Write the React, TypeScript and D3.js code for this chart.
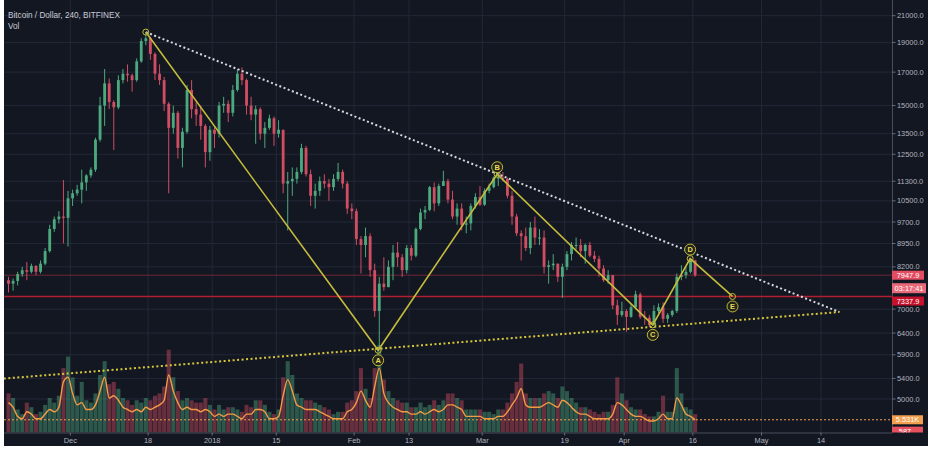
import React from "react";
import * as d3 from "d3";

const W = 933;
const H = 451;

// ---- data (daily candles) ----
const startDay = "2017-11-17T00:00:00Z";
const firstOpen = 7800;
const highs = [
  7900, 7850, 8050, 8200, 8350, 8300, 8250, 8400, 8800, 9600, 9900, 10100, 11350, 10900,
  10950, 11150, 11800, 11600, 11900, 13300, 15500, 17200, 16600, 15300, 16800, 17200, 17500, 16900, 17900, 19300,
  19750, 19400, 18300, 17500, 16700, 15200, 15000, 14700, 13800, 16200, 16500, 15200, 15000, 14000, 13900,
  13900, 15200, 15500, 15300, 16200, 17200, 17300, 16600, 15500, 15000, 14900, 14100, 14500, 14400, 14200,
  13700, 11700, 11900, 11900, 13000, 12900, 11800, 11200, 11500, 11600, 11400, 11600, 12100, 11800, 11300, 10400,
  10200, 9200, 9500, 9300, 8300, 7900, 8500, 8400, 8900, 9000, 8600, 8900, 8900, 9500, 10200, 10300, 11100,
  11250, 11200, 11750, 11400, 10900, 10400, 10400, 9900, 10400, 10800, 11100,
  11000, 11200, 11500, 11700, 11700, 11450, 10900, 10000, 9400, 9500, 9700, 9900, 9450, 9400, 8400, 8600,
  8300, 8300, 8700, 9000, 9150, 9100, 8950, 9000, 8700, 8550, 8250, 8100, 7950, 7250, 7200,
  7000, 7150, 7500, 7450, 6950, 6850, 7100, 7150, 7180, 6900, 6980, 8000, 8250, 8200, 8450, 8420,
];
const lows = [
  7450, 7500, 7650, 7900, 7800, 8000, 7950, 8000, 8250, 8650, 9350, 9650, 8950, 8850,
  10300, 10700, 10400, 10900, 11450, 11700, 13100, 13900, 14800, 12700, 14800, 16300, 16400, 15800, 16400, 17600,
  18800, 17800, 16500, 16200, 14700, 10800, 13500, 12300, 11900, 13500, 14300, 13900, 13200, 11900, 12200,
  12800, 13300, 14600, 14100, 14400, 15800, 16200, 14500, 14200, 13000, 13200, 12800, 13700, 12900, 13300,
  10800, 9400, 10700, 11200, 11600, 11500, 10300, 10200, 10700, 11000, 10500, 10900, 11300, 11000, 10000, 9800,
  8900, 8000, 8500, 7900, 6800, 6050, 7500, 7600, 7800, 8200, 7900, 8000, 8400, 8500, 9400, 9800, 10100,
  10100, 10300, 11100, 10400, 9800, 9600, 9400, 9300, 9400, 10200, 10300,
  10300, 10800, 11000, 11100, 11300, 10600, 9600, 9200, 8400, 8700, 8600, 8900, 8900, 8000, 7700, 8100,
  7750, 7300, 8100, 8400, 8750, 8500, 8300, 8500, 8350, 7900, 7750, 7700, 7000, 6600, 6800,
  6430, 6780, 7000, 6750, 6600, 6550, 6580, 6900, 6650, 6650, 6800, 6900, 7800, 7850, 8000, 7900,
];
const closes = [
  7700, 7780, 7980, 8100, 8050, 8230, 8050, 8300, 8700, 9450, 9800, 9900, 9850, 10600,
  10800, 10950, 11250, 11550, 11800, 13200, 15000, 16300, 15200, 14900, 16500, 16900, 16800, 16500, 17700, 19100,
  19300, 18200, 16900, 16500, 15100, 13800, 14600, 12800, 13600, 15900, 14800, 14500, 13900, 12600, 13700,
  13500, 15000, 15100, 14600, 15900, 16900, 16500, 15000, 14500, 14800, 13500, 13800, 14300, 13500, 13700,
  11200, 11300, 11400, 11700, 12800, 11600, 10700, 10900, 11300, 11200, 11050, 11400, 11700, 11200, 10200, 10100,
  9100, 8900, 9200, 8100, 6950, 7700, 7600, 8200, 8650, 8500, 8100, 8800, 8550, 9450, 10050, 10150, 11050,
  10400, 11100, 11300, 10550, 9900, 10200, 9600, 9650, 10300, 10650, 10350,
  10900, 11050, 11450, 11450, 11400, 10700, 9900, 9300, 9200, 8800, 9500, 9150, 9150, 8200, 8250, 8300,
  7900, 8200, 8600, 8900, 8900, 8700, 8900, 8550, 8450, 8150, 7800, 7950, 7100, 6850, 6950,
  6800, 7050, 7400, 6800, 6780, 6600, 6950, 7050, 6750, 6850, 6950, 7900, 7950, 8050, 8400, 7947.9,
];
// volume bars, thousands of BTC (upper envelope of the 4h bars per day)
const volumes = [
  17, 15, 10, 8, 13, 11, 8, 9, 12, 15, 13, 16, 28, 33,
  24, 16, 22, 14, 13, 17, 25, 31, 21, 22, 19, 15, 14, 12, 14, 13, 15, 14, 16, 17, 20, 36, 24, 18, 14, 15, 14, 13, 13, 15, 12,
  10, 12, 10, 11, 11, 10, 9, 12, 11, 14, 14, 12, 9, 8, 10, 24, 31, 25, 17, 15, 14, 14, 13, 12, 11, 10, 8, 9, 9, 13, 14,
  18, 28, 19, 15, 28, 38, 23, 18, 15, 14, 13, 13, 11, 11, 13, 11, 12, 14, 12, 14, 17, 17, 15, 14, 10, 10, 10, 10,
  9, 9, 8, 10, 10, 13, 17, 22, 30, 17, 15, 15, 15, 17, 18, 17, 15, 20, 18, 15, 13, 11, 11, 10, 9, 8, 9, 9, 12, 24, 17,
  14, 11, 10, 10, 8, 7, 7, 9, 16, 9, 9, 28, 17, 11, 10, 8,
];
// volume moving average, thousands of BTC
const volumeMA = [
  13, 11, 7, 6, 9, 8, 6, 6, 8, 10, 9, 11, 22, 24,
  17, 12, 13, 10, 10, 12, 18, 24, 15, 16, 14, 11, 10, 9, 10, 9, 11, 10, 11, 12, 14, 25, 18, 13, 10, 11, 10, 10, 9, 10, 9,
  7, 8, 7, 8, 8, 7, 6, 8, 8, 10, 10, 9, 6, 6, 7, 16, 23, 18, 12, 11, 10, 10, 10, 9, 8, 7, 6, 6, 6, 9, 10,
  13, 18, 14, 11, 20, 28, 17, 13, 11, 10, 9, 9, 8, 8, 9, 8, 9, 10, 9, 10, 12, 12, 11, 10, 7, 7, 7, 7,
  6, 6, 6, 7, 7, 9, 12, 15, 19, 12, 11, 11, 11, 12, 13, 12, 11, 14, 13, 11, 9, 8, 8, 7, 6, 6, 6, 6, 8, 13, 12,
  10, 8, 7, 7, 6, 5, 5, 6, 8, 6, 6, 15, 12, 8, 7, 5.5,
];

const priceTicks = [5000, 5400, 5900, 6400, 7000, 8200, 8950, 9700, 10500, 11300, 12500, 13500, 15000, 17000, 19000, 21000];
const timeTicks = [
  "2017-12-01", "2017-12-18", "2018-01-01", "2018-01-15", "2018-02-01", "2018-02-13",
  "2018-03-01", "2018-03-19", "2018-04-01", "2018-04-16", "2018-05-01", "2018-05-14",
];
const timeTickLabels = ["Dec", "18", "2018", "15", "Feb", "13", "Mar", "19", "Apr", "16", "May", "14"];

const waveNames = ["", "A", "B", "C", "D", "E"];
const waveDates = [
  "2017-12-17T12:00:00Z", "2018-02-06T06:00:00Z", "2018-03-04T06:00:00Z",
  "2018-04-07T06:00:00Z", "2018-04-15T10:00:00Z", "2018-04-24T16:00:00Z",
];
const wavePrices = [19750, 6000, 11600, 6600, 8460, 7340];

const upperTrendDates = ["2017-12-17T12:00:00Z", "2018-05-18T00:00:00Z"];
const upperTrendPrices = [19750, 6925];
const lowerTrendDates = ["2017-11-15T12:00:00Z", "2018-05-18T00:00:00Z"];
const lowerTrendPrices = [5390, 6925];

const lastPrice = 7947.9;
const levelPrice = 7337.9;
const countdown = "03:17:41";
const volMaLast = 5.531;
const lastVol = 0.587;

const title = "Bitcoin / Dollar, 240, BITFINEX";
const volTitle = "Vol";

// ---- layout / style ----
const BG = "#131722";
const PLOT_L = 4;
const PLOT_R = 892;
const PLOT_B = 432.5;
const UP = "#53b987";
const DOWN = "#e5536a";
const GRID = "#232838";
const AXIS_TEXT = "#b2b5be";
const WAVE = "#c4bb3c";
const FONT = "'Liberation Sans', Arial, sans-serif";

export default function App() {
  const x = d3
    .scaleUtc()
    .domain([new Date("2017-12-01T00:00:00Z"), new Date("2018-05-14T00:00:00Z")])
    .range([70.3, 821]);
  const y = d3.scaleLog().domain([5000, 21000]).range([399, 15.7]);
  const yVol = d3.scaleLinear().domain([0, 10]).range([PLOT_B, PLOT_B - 23]);

  const start = new Date(startDay);
  const candles = closes.map((c, i) => {
    const day = d3.utcDay.offset(start, i);
    const mid = d3.utcHour.offset(day, 12);
    const open = i === 0 ? firstOpen : closes[i - 1];
    return { mid, day, open, high: highs[i], low: lows[i], close: c, vol: volumes[i] };
  });
  const dayW = x(d3.utcDay.offset(start, 1)) - x(start);
  const bodyW = dayW * 0.62;

  const maLine = d3
    .line<number>()
    .x((_, i) => x(candles[i].mid))
    .y((v) => yVol(v))
    .curve(d3.curveMonotoneX)(volumeMA) as string;

  const wavePts = waveDates.map((d, i) => ({ name: waveNames[i], px: x(new Date(d)), py: y(wavePrices[i]) }));
  const waveLine = d3
    .line<{ px: number; py: number }>()
    .x((p) => p.px)
    .y((p) => p.py)(wavePts) as string;

  const trend = (ds: string[], ps: number[]) => ({
    x1: x(new Date(ds[0])),
    y1: y(ps[0]),
    x2: x(new Date(ds[1])),
    y2: y(ps[1]),
  });
  const up = trend(upperTrendDates, upperTrendPrices);
  const lo = trend(lowerTrendDates, lowerTrendPrices);

  const below = new Set(["A", "C", "E"]);

  const yLast = y(lastPrice);
  const yLevel = y(levelPrice);
  const yMa = yVol(volMaLast);
  const yLastVol = yVol(lastVol);

  return (
    <svg
      width={W}
      height={H}
      style={{ position: "absolute", left: 0, top: 0, display: "block" }}
      fontFamily={FONT}
    >
      <defs>
        <clipPath id="plot">
          <rect x={PLOT_L} y={0} width={PLOT_R - PLOT_L} height={PLOT_B} />
        </clipPath>
        <clipPath id="axisR">
          <rect x={PLOT_R} y={0} width={40} height={PLOT_B} />
        </clipPath>
      </defs>
      <rect x={0} y={0} width={W} height={H} fill="#ffffff" />
      <rect x={PLOT_L} y={0} width={928 - PLOT_L} height={446} fill={BG} />

      {/* grid */}
      <g clipPath="url(#plot)">
        {priceTicks.map((t) => (
          <line key={"gy" + t} x1={PLOT_L} x2={PLOT_R} y1={y(t)} y2={y(t)} stroke={GRID} strokeWidth={1} />
        ))}
        {timeTicks.map((t) => (
          <line key={"gx" + t} x1={x(new Date(t))} x2={x(new Date(t))} y1={0} y2={PLOT_B} stroke={GRID} strokeWidth={1} />
        ))}
      </g>

      <g clipPath="url(#plot)">
        {/* volume */}
        {candles.map((c, i) => (
          <rect
            key={"v" + i}
            x={x(c.mid) - dayW / 2 + 0.25}
            y={yVol(c.vol)}
            width={dayW - 0.5}
            height={PLOT_B - yVol(c.vol)}
            fill={c.close >= c.open ? UP : DOWN}
            opacity={0.4}
          />
        ))}
        <line x1={PLOT_L} x2={PLOT_R} y1={yMa} y2={yMa} stroke="#f0a050" strokeWidth={1} strokeDasharray="2 2" />
        <path d={maLine} fill="none" stroke="#f39a45" strokeWidth={1.4} />

        {/* price level lines */}
        <line x1={PLOT_L} x2={PLOT_R} y1={yLast} y2={yLast} stroke="#6e2634" strokeWidth={1} />
        <line x1={PLOT_L} x2={PLOT_R} y1={yLevel} y2={yLevel} stroke="#b01f30" strokeWidth={1.5} />

        {/* candles */}
        {candles.map((c, i) => {
          const col = c.close >= c.open ? UP : DOWN;
          const cx = x(c.mid);
          const top = y(Math.max(c.open, c.close));
          const bot = y(Math.min(c.open, c.close));
          return (
            <g key={"c" + i} opacity={0.9}>
              <line x1={cx} x2={cx} y1={y(c.high)} y2={y(c.low)} stroke={col} strokeWidth={1} />
              <rect x={cx - bodyW / 2} y={top} width={bodyW} height={Math.max(1, bot - top)} fill={col} />
            </g>
          );
        })}

        {/* trend lines */}
        <line {...up} stroke="#d6d8df" strokeWidth={2} strokeDasharray="2 2.5" />
        <line {...lo} stroke="#d8c83a" strokeWidth={2} strokeDasharray="2 2.5" />

        {/* wave */}
        <path d={waveLine} fill="none" stroke={WAVE} strokeWidth={1.6} />
        {wavePts.map((p, i) => (
          <circle key={"wp" + i} cx={p.px} cy={p.py} r={3} fill="none" stroke={WAVE} strokeWidth={1} />
        ))}
        {wavePts
          .filter((p) => p.name)
          .map((p) => {
            const ly = below.has(p.name) ? p.py + 10 : p.py - (p.name === "B" ? 7 : 9);
            return (
              <g key={"wl" + p.name}>
                <circle cx={p.px} cy={ly} r={5.5} fill="#24251b" stroke={WAVE} strokeWidth={1} />
                <text
                  x={p.px}
                  y={ly + 2.6}
                  textAnchor="middle"
                  fontSize={7.5}
                  fontWeight="bold"
                  fill="#e6dc58"
                >
                  {p.name}
                </text>
              </g>
            );
          })}
      </g>

      {/* borders */}
      <line x1={PLOT_R + 0.5} x2={PLOT_R + 0.5} y1={0} y2={PLOT_B} stroke="#4a4e5a" strokeWidth={1} />
      <line x1={PLOT_L} x2={PLOT_R} y1={PLOT_B + 0.5} y2={PLOT_B + 0.5} stroke="#4a4e5a" strokeWidth={1} />

      {/* price axis */}
      {priceTicks.map((t) => (
        <g key={"py" + t}>
          <line x1={PLOT_R} x2={PLOT_R + 3.5} y1={y(t)} y2={y(t)} stroke="#6a6d78" strokeWidth={1} />
          <text x={897} y={y(t) + 2.6} fontSize={7.4} fill={AXIS_TEXT}>
            {d3.format(".1f")(t)}
          </text>
        </g>
      ))}

      {/* right-axis labels */}
      <g clipPath="url(#axisR)">
        <rect x={PLOT_R} y={yLast - 4.5} width={32} height={9} fill="#e24d62" />
        <text x={908} y={yLast + 2.6} fontSize={7.4} fill="#ffffff" textAnchor="middle">
          {d3.format(".1f")(lastPrice)}
        </text>
        <rect x={PLOT_R} y={yLast + 8} width={34} height={10} fill="#e8697a" />
        <text x={909} y={yLast + 15.6} fontSize={7.4} fill="#ffffff" textAnchor="middle">
          {countdown}
        </text>
        <rect x={PLOT_R} y={yLevel} width={32} height={9} fill="#c5112b" />
        <text x={908} y={yLevel + 7} fontSize={7.4} fill="#ffffff" textAnchor="middle">
          {d3.format(".1f")(levelPrice)}
        </text>
        <rect x={PLOT_R} y={yMa - 4.5} width={31} height={9} fill="#f2a04e" />
        <text x={907.5} y={yMa + 2.6} fontSize={7.4} fill="#ffffff" textAnchor="middle">
          {d3.format(".4~r")(volMaLast) + "K"}
        </text>
        <rect x={PLOT_R} y={yLastVol - 4.5} width={31} height={9} fill="#e6505f" />
        <text x={905} y={yLastVol + 2.6} fontSize={7.4} fill="#ffffff" textAnchor="middle">
          {Math.round(lastVol * 1000)}
        </text>
      </g>

      {/* time axis */}
      {timeTicks.map((t, i) => (
        <g key={"tx" + t}>
          <line x1={x(new Date(t))} x2={x(new Date(t))} y1={PLOT_B} y2={PLOT_B + 3} stroke="#6a6d78" strokeWidth={1} />
          <text x={x(new Date(t))} y={443} fontSize={7.4} fill={AXIS_TEXT} textAnchor="middle">
            {timeTickLabels[i]}
          </text>
        </g>
      ))}

      {/* titles */}
      <text x={8} y={17.5} fontSize={8.2} fill="#c9ccd4">
        {title}
      </text>
      <text x={8} y={29} fontSize={8.2} fill="#c9ccd4">
        {volTitle}
      </text>
    </svg>
  );
}
